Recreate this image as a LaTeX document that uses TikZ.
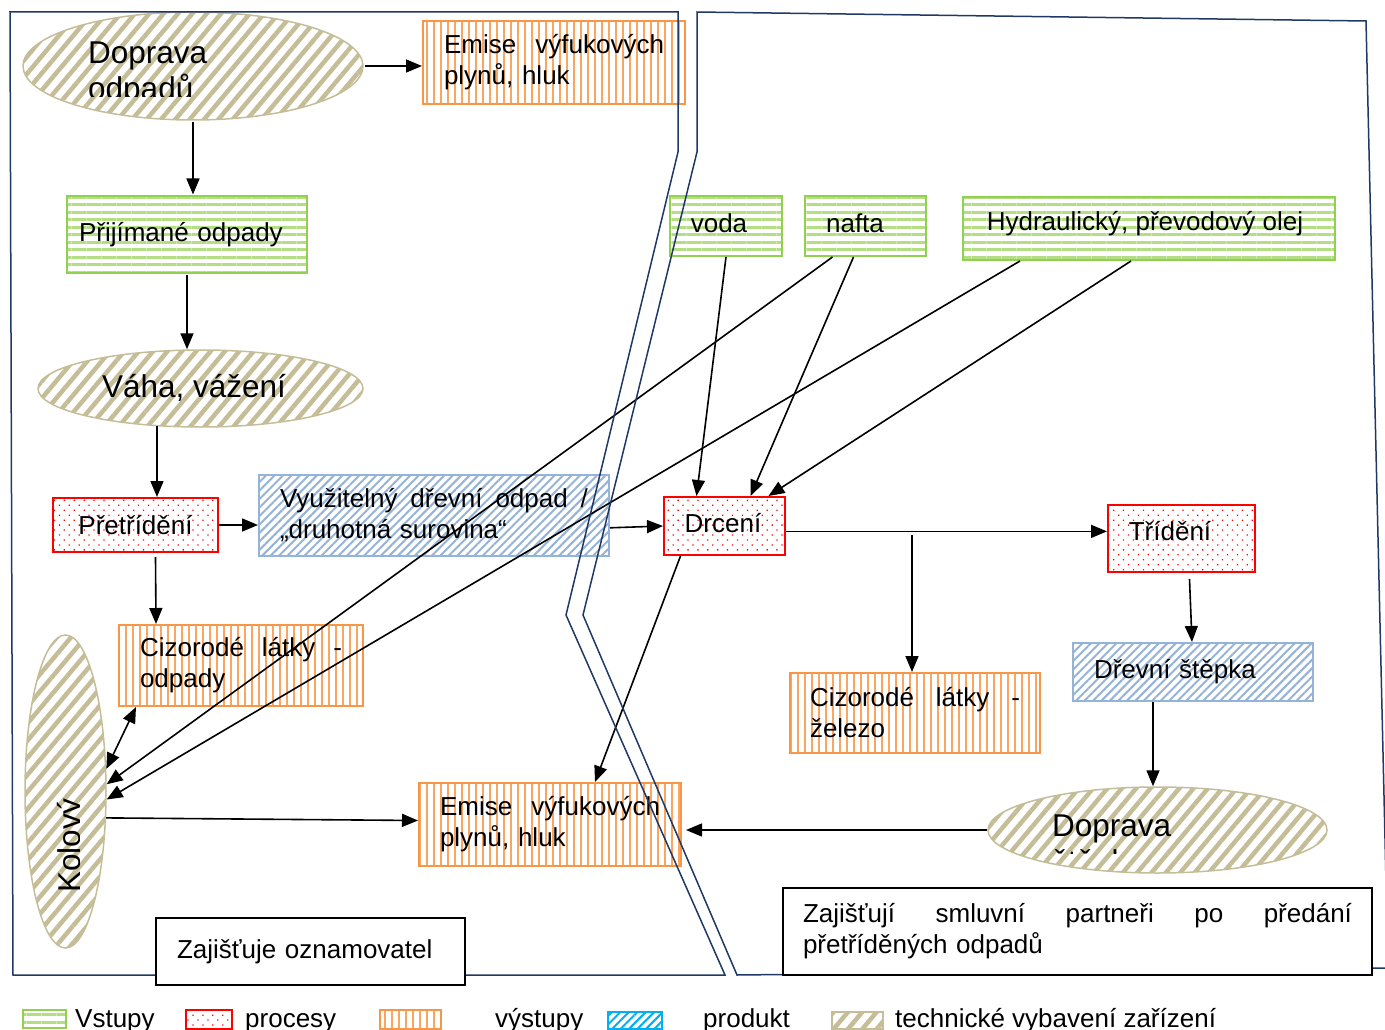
\documentclass[tikz,border=0pt]{standalone}
\usepackage{fontspec}
\setmainfont{Liberation Sans}
\usetikzlibrary{shapes.geometric, patterns.meta, arrows.meta}

\definecolor{inputgreen}{HTML}{92D050}
\definecolor{processred}{HTML}{FF0000}
\definecolor{outputorange}{HTML}{F79646}
\definecolor{productblue}{HTML}{95B3D7}
\definecolor{legendblue}{HTML}{00B0F0}
\definecolor{techtan}{HTML}{C4BD97}
\definecolor{framenavy}{HTML}{1F3864}

\newcommand{\boxfont}{\fontsize{26}{31}\selectfont}
\newcommand{\techfont}{\fontsize{31.5}{36}\selectfont}

\begin{document}
\begin{tikzpicture}[
    x=1pt, y=-1pt,
    >={Triangle[length=16pt,width=13pt]},
    arrow/.style={->, line width=1.6pt},
    boxbase/.style={rectangle, inner sep=0pt, font=\boxfont, line width=2pt},
    input/.style={boxbase, draw=inputgreen, pattern={Lines[angle=0,distance=7.5pt,line width=3pt]}, pattern color=inputgreen!70},
    process/.style={boxbase, draw=processred, pattern={Dots[angle=45,distance=7pt,radius=0.9pt]}, pattern color=processred},
    output/.style={boxbase, draw=outputorange, pattern={Lines[angle=90,distance=7pt,line width=2pt]}, pattern color=outputorange!85},
    product/.style={boxbase, draw=productblue, pattern={Lines[angle=45,distance=6pt,line width=2pt]}, pattern color=productblue},
    tech/.style={ellipse, inner sep=0pt, draw=techtan, line width=1.5pt, font=\techfont, pattern={Lines[angle=50,distance=11pt,line width=4.5pt]}, pattern color=techtan},
    remark/.style={rectangle, draw, line width=1.4pt, fill=white, inner sep=0pt, font=\boxfont, align=left},
    frame/.style={draw=framenavy, line width=1.5pt},
    legendtext/.style={anchor=base west, inner sep=0pt, font=\boxfont}
]
\useasboundingbox (0,0) rectangle (1385,1030);
\clip (0,0) rectangle (1385,1030);

% Left part: arrival, weighing and pre-sorting
\node[tech, minimum width=340pt, minimum height=108pt] (transport) at (193,66) {};
\begin{scope}
  \clip (60,20) rectangle (330,97);
  \node[anchor=north west, inner sep=0pt, font=\techfont, align=left] (transporttext) at (88,42) {Doprava\\odpadů};
\end{scope}
\node[output, minimum width=262pt, minimum height=83pt, text width=220pt, align=left] (emisetop) at (554,62.5) {Emise\hfill výfukových\\plynů, hluk};
\node[input, minimum width=240pt, minimum height=77pt, text width=216pt, align=left] (received) at (187,234.5) {Přijímané odpady};
\node[tech, minimum width=325pt, minimum height=77pt] (scale) at (200.5,388.5) {};
\node[inner sep=0pt, font=\techfont] (scaletext) at (194,388) {Váha, vážení};
\node[process, minimum width=165pt, minimum height=54pt, align=center] (presort) at (135.5,525) {Přetřídění};
\node[product, minimum width=350pt, minimum height=81pt, text width=308pt, align=left] (woodwaste) at (434,515.5) {Využitelný\hfill dřevní\hfill odpad\hfill /\\„druhotná surovina“};
\node[output, minimum width=244pt, minimum height=81pt, text width=202pt, align=left] (foreignwaste) at (241,665.5) {Cizorodé\hfill látky\hfill -\\odpady};

% Loader
\node[tech, minimum width=81pt, minimum height=313pt] (loader) at (65.5,791.5) {};
\begin{scope}
  \clip (30,640) rectangle (79.5,945);
  \node[rotate=90, anchor=base west, inner sep=0pt, font=\techfont] (loadertext) at (80,893) {Kolový};
\end{scope}
\node[output, minimum width=262pt, minimum height=83pt, text width=220pt, align=left] (emisebottom) at (550,824.5) {Emise\hfill výfukových\\plynů, hluk};

% Inputs
\node[input, minimum width=112pt, minimum height=60pt] (water) at (726,226) {};
\node[inner sep=0pt, font=\boxfont] (watertext) at (719,223) {voda};
\node[input, minimum width=121pt, minimum height=60pt] (diesel) at (865.5,226) {};
\node[inner sep=0pt, font=\boxfont] (dieseltext) at (855,223) {nafta};
\node[input, minimum width=372pt, minimum height=63pt] (oil) at (1149,228.5) {};
\node[inner sep=0pt, font=\boxfont] (oiltext) at (1145,224) {Hydraulický, převodový olej};

% Right part: crushing and sorting
\node[process, minimum width=121pt, minimum height=58pt] (crushing) at (724.5,526) {};
\node[inner sep=0pt, font=\boxfont] (crushingtext) at (723,523) {Drcení};
\node[process, minimum width=147pt, minimum height=67pt] (sorting) at (1181.5,538.5) {};
\node[inner sep=0pt, font=\boxfont] (sortingtext) at (1170,531) {Třídění};
\node[output, minimum width=250pt, minimum height=80pt, text width=210pt, align=left] (foreigniron) at (915,713) {Cizorodé\hfill látky\hfill -\\železo};
\node[product, minimum width=240pt, minimum height=58pt, text width=198pt, align=left] (chips) at (1193,672) {Dřevní štěpka};
\node[tech, minimum width=339pt, minimum height=86pt] (transportchips) at (1157.5,830) {};
\begin{scope}
  \clip (1000,795) rectangle (1300,853.5);
  \node[anchor=north west, inner sep=0pt, font=\techfont, align=left] (chipstext) at (1052,815) {Doprava\\štěpky};
\end{scope}

% Arrows - left part
\draw[arrow] (transport.east) -- (transport.east -| emisetop.west);
\draw[arrow] (transport.south) -- (transport.south |- received.north);
\draw[arrow] (received.south) -- (received.south |- scale.north);
\draw[arrow] (scale.221) -- (scale.221 |- presort.north);
\draw[arrow] (presort.east) -- (presort.east -| woodwaste.west);
\draw[arrow] ([xshift=20pt,yshift=-4pt]presort.south) -- ([xshift=-85pt]foreignwaste.north);
\draw[<->, line width=1.6pt] (loader.29) -- ([xshift=18pt]foreignwaste.south west);
\draw[arrow] (loader.-33) -- ([yshift=4pt]emisebottom.west);

% Arrows - inputs
\draw[arrow] (water.south) -- ([xshift=-28pt]crushing.north);
\draw[arrow] ([xshift=-12pt]diesel.south) -- ([xshift=26pt]crushing.north);
\draw[arrow] ([xshift=-18pt]oil.south) -- ([xshift=44pt]crushing.north);
\draw[arrow] ([xshift=-33pt]diesel.south) -- (loader.10);
\draw[arrow] ([xshift=-129pt]oil.south) -- (loader.-11);

% Arrows - right part
\draw[arrow] (woodwaste.-4) -- (crushing.west);
\draw[arrow] (crushing.-5) -- (crushing.-5 -| sorting.west);
\coordinate (split) at (912,535);
\draw[arrow] (split) -- (split |- foreigniron.north);
\draw[arrow] ([xshift=-44pt]crushing.south) -- ([xshift=45pt]emisebottom.north);
\draw[arrow] ([xshift=8pt,yshift=-6pt]sorting.south) -- ([xshift=-1pt]chips.north);
\draw[arrow] ([xshift=-40pt]chips.south) -- ([xshift=-40pt]chips.south |- transportchips.north);
\draw[arrow] (transportchips.west) -- ([xshift=4pt]transportchips.west -| emisebottom.east);

% Frames
\draw[frame] (10,12) -- (678,12) -- (678,152) -- (566,615) -- (725,975) -- (13,975) -- cycle;
\draw[frame] (697,12) -- (1366,21) -- (1388,968) -- (737,975) -- (583,615) -- (697,152) -- cycle;

% Who provides what
\node[remark, minimum width=309pt, minimum height=67pt, text width=267pt] (notifier) at (310.5,951.5) {Zajišťuje oznamovatel};
\node[remark, minimum width=589pt, minimum height=87pt, text width=549pt] (partners) at (1077.5,931.5) {Zajišťují\hfill smluvní\hfill partneři\hfill po\hfill předání\\přetříděných odpadů};

% Legend
\node[input, minimum width=43pt, minimum height=18pt] (leginput) at (44.5,1019) {};
\node[legendtext] (leginputtext) at (75,1027) {Vstupy};
\node[process, minimum width=46pt, minimum height=19pt] (legprocess) at (209,1019.5) {};
\node[legendtext] (legprocesstext) at (245,1027) {procesy};
\node[output, minimum width=61pt, minimum height=19pt] (legoutput) at (410.5,1019.5) {};
\node[legendtext] (legoutputtext) at (495,1027) {výstupy};
\node[product, draw=legendblue, pattern color=legendblue, minimum width=54pt, minimum height=17pt] (legproduct) at (635,1020.5) {};
\node[legendtext] (legproducttext) at (703,1027) {produkt};
\node[tech, rectangle, minimum width=51pt, minimum height=17pt] (legtech) at (857.5,1020.5) {};
\node[legendtext] (legtechtext) at (895,1027) {technické vybavení zařízení};

\end{tikzpicture}
\end{document}
